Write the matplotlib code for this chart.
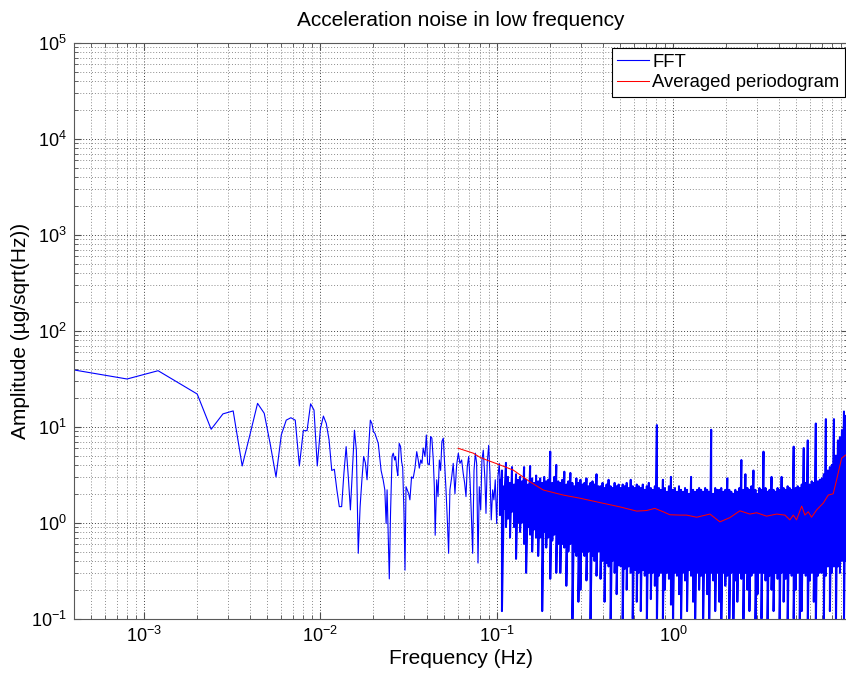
import numpy as np
import matplotlib
matplotlib.use("Agg")
import matplotlib.pyplot as plt
from matplotlib.ticker import LogLocator, NullFormatter

plt.rcParams['font.family'] = ['Liberation Sans', 'DejaVu Sans']
plt.rcParams['mathtext.default'] = 'regular'

# --- FFT, first bins (bin width 0.4 mHz) ---
df = 4e-4
amp_bins = [39, 31.4, 38.3, 28, 21.9, 9.4, 13.6, 14.6, 3.9, 8.5,
            17.5, 13.8, 6.5, 3.0, 8.2, 11.7, 12.4, 11.7, 3.9, 9.1,
            9.1, 17.3, 14.9, 3.9, 9.5, 12.9, 10.8, 7.3, 3.5, 3.6,
            2.2, 1.47, 1.47, 3.3, 6.2, 3.0, 1.36, 3.5, 9.2, 5.7,
            0.48, 1.47, 2.8, 4.9, 4.2, 2.8, 6.2, 11.7, 10.8, 8.9]
f_bins = df * np.arange(1, len(amp_bins) + 1)

# --- FFT, 0.02 .. 0.1 Hz (read point by point) ---
f_mid = [0.0204, 0.0213, 0.0221, 0.0227, 0.0232, 0.0236, 0.0239, 0.0246, 0.0250, 0.0255,
         0.0259, 0.0264, 0.0267, 0.0272, 0.0275, 0.0280, 0.0285, 0.0289, 0.0293, 0.0298,
         0.0302, 0.0306, 0.0311, 0.0317, 0.0322, 0.0329, 0.0336, 0.0344, 0.0352, 0.0359,
         0.0364, 0.0371, 0.0377, 0.0383, 0.0392, 0.0399, 0.0406, 0.0415, 0.0422, 0.0429,
         0.0437, 0.0443, 0.0448, 0.0457, 0.0465, 0.0473, 0.0481, 0.0489, 0.0498, 0.0507,
         0.0516, 0.0525, 0.0534, 0.0543, 0.0556, 0.0567, 0.0580, 0.0593, 0.0606, 0.0619,
         0.0633, 0.0646, 0.0658, 0.0670, 0.0681, 0.0694, 0.0706, 0.0718, 0.0731, 0.0744,
         0.0757, 0.0770, 0.0784, 0.0797, 0.0812, 0.0825, 0.0840, 0.0858, 0.0870, 0.0884,
         0.0901, 0.0916, 0.0932, 0.0949, 0.0965, 0.0982, 0.1000, 0.1017, 0.1035]
amp_mid = [8.5, 6.7, 3.5, 2.8, 2.2, 0.98, 2.2, 0.26, 1.25, 4.9,
           5.3, 4.5, 4.9, 3.5, 3.1, 6.7, 6.2, 4.3, 3.8, 1.25,
           0.32, 2.37, 2.2, 2.0, 1.73, 3.0, 2.9, 3.7, 5.5, 4.5,
           3.7, 4.5, 4.15, 6.0, 4.9, 8.2, 4.15, 4.0, 7.9, 7.6,
           4.5, 2.37, 0.74, 2.8, 1.87, 4.5, 3.5, 7.0, 7.6, 4.15,
           2.2, 1.07, 0.48, 2.2, 3.0, 4.15, 2.0, 4.0, 5.3, 4.15,
           4.5, 3.27, 2.6, 1.87, 3.8, 4.9, 2.8, 1.25, 0.48, 3.5,
           5.3, 4.15, 0.38, 2.37, 1.36, 4.5, 5.7, 2.8, 1.25, 4.15,
           6.4, 3.27, 1.07, 2.2, 1.73, 2.8, 0.98, 3.0, 4.15]

# --- FFT, 0.1 .. 10 Hz: dense band, top / bottom of the trace in each column ---
dense_hi = [2.8, 3.5, 2.4, 4.2, 3.0, 2.6, 3.8, 2.5, 3.2, 2.8,
            3.0, 2.7, 3.8, 2.8, 2.5, 3.9, 2.9, 2.6, 3.1, 2.7,
            2.9, 2.6, 3.0, 2.7, 2.8, 5.5, 2.6, 3.0, 4.0, 2.7,
            2.6, 2.8, 3.4, 2.5, 2.7, 3.3, 2.6, 2.4, 2.9, 2.6,
            2.8, 2.5, 2.6, 2.9, 2.4, 2.6, 2.7, 2.5, 3.2, 2.4,
            2.4, 2.6, 2.3, 2.5, 2.8, 2.4, 2.3, 2.6, 2.4, 2.5,
            2.3, 2.5, 2.4, 2.6, 2.3, 2.8, 2.4, 2.3, 2.5, 2.4,
            2.3, 2.5, 2.2, 2.4, 2.6, 2.3, 2.2, 2.4, 10.4, 2.3,
            2.2, 2.8, 2.3, 2.1, 2.4, 3.0, 2.2, 2.3, 2.1, 2.4,
            2.2, 2.1, 2.3, 2.2, 2.0, 3.0, 2.2, 2.1, 2.2, 2.3,
            2.2, 2.1, 2.3, 2.2, 2.1, 9.3, 2.0, 2.3, 2.2, 2.2,
            2.3, 2.1, 2.2, 2.9, 2.2, 2.1, 2.0, 2.2, 2.1, 2.3,
            4.5, 2.2, 3.2, 2.3, 2.2, 2.4, 3.5, 2.2, 2.0, 2.3,
            2.2, 5.5, 2.3, 2.1, 2.2, 3.0, 2.2, 2.1, 2.3, 2.2,
            3.0, 2.3, 2.2, 2.4, 2.3, 2.2, 6.2, 2.3, 2.4, 2.3,
            2.5, 6.0, 2.6, 7.2, 2.5, 2.7, 2.6, 10.8, 2.7, 2.8,
            2.9, 3.2, 12.0, 3.5, 3.8, 4.0, 12.0, 5.0, 7.2, 7.8,
            9.2, 14.4, 13.0, 12.0]
dense_lo = [1.2, 0.12, 1.4, 0.9, 1.1, 0.7, 1.3, 0.9, 0.42, 1.0,
            0.8, 1.0, 0.6, 0.3, 0.9, 0.75, 0.5, 0.85, 0.7, 0.45,
            0.7, 0.12, 0.8, 0.55, 0.7, 0.26, 0.65, 0.75, 0.3, 0.6,
            0.3, 0.6, 0.55, 0.22, 0.5, 0.6, 0.08, 0.5, 0.45, 0.15,
            0.2, 0.5, 0.45, 0.25, 0.5, 0.08, 0.45, 0.4, 0.28, 0.5,
            0.26, 0.4, 0.15, 0.38, 0.35, 0.08, 0.4, 0.3, 0.18, 0.36,
            0.35, 0.09, 0.33, 0.2, 0.35, 0.3, 0.1, 0.32, 0.15, 0.3,
            0.12, 0.32, 0.28, 0.08, 0.3, 0.16, 0.3, 0.22, 0.08, 0.28,
            0.3, 0.1, 0.2, 0.3, 0.26, 0.14, 0.08, 0.3, 0.28, 0.18,
            0.08, 0.3, 0.25, 0.12, 0.32, 0.28, 0.15, 0.08, 0.3, 0.2,
            0.28, 0.1, 0.3, 0.18, 0.08, 0.3, 0.25, 0.12, 0.3, 0.15,
            0.08, 0.3, 0.22, 0.28, 0.1, 0.3, 0.08, 0.25, 0.15, 0.3,
            0.26, 0.08, 0.3, 0.2, 0.12, 0.28, 0.3, 0.08, 0.18, 0.3,
            0.1, 0.3, 0.25, 0.08, 0.28, 0.2, 0.12, 0.3, 0.26, 0.08,
            0.3, 0.15, 0.26, 0.08, 0.3, 0.28, 0.1, 0.2, 0.3, 0.08,
            0.12, 0.3, 0.28, 0.08, 0.25, 0.3, 0.15, 0.08, 0.28, 0.3,
            0.3, 0.1, 0.28, 0.35, 0.12, 0.3, 0.35, 0.08, 0.35, 0.3,
            0.4, 0.09, 0.4, 0.3]
f_cols = np.geomspace(0.1044, 9.85, len(dense_hi))
f_dense = np.repeat(f_cols, 2)
amp_dense = np.column_stack([dense_hi, dense_lo]).ravel()

f_fft = np.concatenate([f_bins, f_mid, f_dense[:1]])
amp_fft = np.concatenate([amp_bins, amp_mid, amp_dense[:1]])

# --- averaged periodogram ---
f_avg = [0.0605, 0.0737, 0.0804, 0.0877, 0.1044, 0.1243, 0.1545, 0.1839, 0.2388, 0.2968,
         0.386, 0.5016, 0.6233, 0.7096, 0.7898, 0.8805, 0.9616, 1.096, 1.196, 1.363,
         1.622, 1.848, 2.106, 2.40, 2.735, 2.985, 3.40, 3.88, 4.32, 4.61,
         4.82, 5.03, 5.38, 5.61, 5.86, 6.12, 6.54, 7.13, 7.61, 8.12,
         8.49, 9.06, 9.6]
amp_avg = [5.96, 5.3, 4.8, 4.5, 4.0, 3.53, 2.67, 2.19, 1.94, 1.8,
           1.62, 1.46, 1.32, 1.34, 1.41, 1.30, 1.21, 1.2, 1.2, 1.14,
           1.23, 1.02, 1.13, 1.33, 1.23, 1.27, 1.17, 1.23, 1.2, 1.07,
           1.2, 1.07, 1.49, 1.2, 1.3, 1.14, 1.36, 1.6, 1.94, 2.0,
           2.8, 4.7, 5.1]

# --- plot ---
W, H = 846, 673
fig = plt.figure(figsize=(W / 100, H / 100), dpi=100)
ax = fig.add_axes([74 / W, 1 - 618.7 / H, 774 / W, 576 / H])

blue = (0, 0, 1)
ax.loglog(f_fft, amp_fft, color=blue, lw=0.8, label='FFT')
# the dense part is drawn a bit wider so that neighbouring columns merge
ax.loglog(f_dense, amp_dense, color=blue, lw=1.45)
ax.loglog(f_avg, amp_avg, color=(1, 0, 0), lw=0.75, label='Averaged periodogram')

ax.set_xlim(4e-4, 9.85)
ax.set_ylim(0.1, 1e5)

ax.xaxis.set_major_locator(LogLocator(base=10, numticks=20))
ax.yaxis.set_major_locator(LogLocator(base=10, numticks=20))
ax.xaxis.set_minor_locator(LogLocator(base=10, subs=np.arange(2, 10), numticks=20))
ax.yaxis.set_minor_locator(LogLocator(base=10, subs=np.arange(2, 10), numticks=20))
ax.xaxis.set_minor_formatter(NullFormatter())
ax.yaxis.set_minor_formatter(NullFormatter())

dots = (0, (1, 2))
ax.grid(True, which='major', color='0.25', ls=dots, lw=0.7)
ax.grid(True, which='minor', color='0.55', ls=dots, lw=0.7)

ax.tick_params(which='both', direction='in', top=True, right=True, color='0.3')
ax.tick_params(which='major', length=5, labelsize=13, pad=5)
ax.tick_params(which='minor', length=3)
for s in ax.spines.values():
    s.set_color('0.35')
    s.set_linewidth(0.8)

ax.set_title('Acceleration noise in low frequency', fontsize=15, pad=12)
ax.set_xlabel('Frequency (Hz)', fontsize=15, labelpad=2)
ax.set_ylabel('Amplitude (µg/sqrt(Hz))', fontsize=15, labelpad=1)

leg = ax.legend(loc='upper right', bbox_to_anchor=(845 / W, 1 - 48 / H),
                bbox_transform=fig.transFigure, borderaxespad=0,
                fancybox=False, framealpha=1, edgecolor='black',
                fontsize=13.3, handlelength=1.73, handletextpad=0.16,
                borderpad=0.3, labelspacing=0.2)
leg.get_frame().set_linewidth(0.8)

fig.savefig('out.png', dpi=100)
